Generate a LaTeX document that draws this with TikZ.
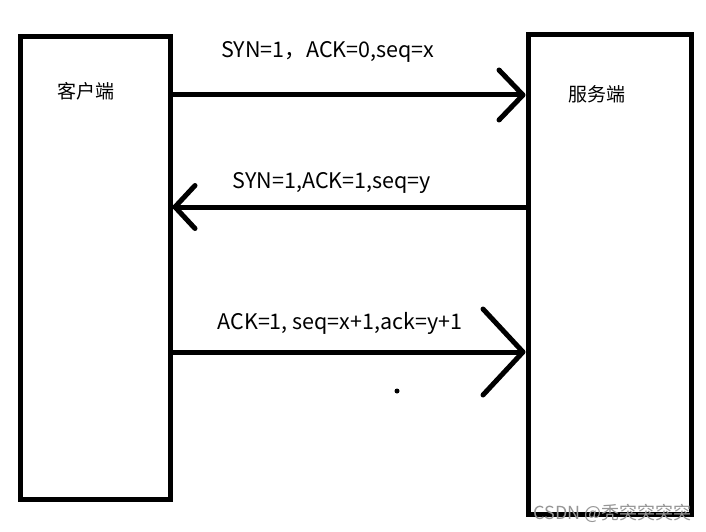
\documentclass[tikz,border=0pt]{standalone}
\usepackage{fontspec}
\setmainfont{Noto Sans CJK SC}
\usepackage{xcolor}
\usetikzlibrary{positioning, arrows.meta, calc}
\definecolor{inkline}{RGB}{0,0,0}
\definecolor{markgray}{RGB}{150,150,150}
\tikzset{
  hostbox/.style={
    rectangle, draw=inkline, line width=5pt,
    inner sep=0pt
  },
  hostlabel/.style={
    font=\fontsize{19}{22}\selectfont, inner sep=0pt
  },
  msglabel/.style={
    font=\fontsize{21.5}{24}\selectfont, inner sep=0pt
  },
  msgarrow/.style={
    draw=inkline, line width=5pt, line cap=round
  }
}

\begin{document}
\begin{tikzpicture}[x=1pt, y=-1pt]
  \useasboundingbox (0,0) rectangle (706,532);
  \node[hostbox, minimum width=150pt, minimum height=462pt] (client) at (95,268) {};
  \node[hostbox, minimum width=163pt, minimum height=479pt] (server) at (609.5,274.5) {};
  \node[hostlabel, below right=48pt and 40pt of client.north west] (clientname) {客户端};
  \node[hostlabel, below right=53pt and 43pt of server.north west] (servername) {服务端};

  % message rows
  \coordinate (row1) at (0,95);
  \coordinate (row2) at (0,207);
  \coordinate (row3) at (0,352);

  \draw[msgarrow, -{Straight Barb[length=24pt, width=50pt, round]}]
    (client.east |- row1) -- (server.west |- row1);
  \draw[msgarrow, -{Straight Barb[length=20pt, width=43pt, round]}]
    (server.west |- row2) -- (client.east |- row2);
  \draw[msgarrow, -{Straight Barb[length=40pt, width=86pt, round]}]
    (client.east |- row3) -- (server.west |- row3);

  \node[msglabel] (syn) at (328,52) {SYN=1，ACK=0,seq=x};
  \node[msglabel] (synack) at (332,183) {SYN=1,ACK=1,seq=y};
  \node[msglabel] (ack) at (340,323) {ACK=1, seq=x+1,ack=y+1};

  \fill[inkline] (397,391) circle (2.5pt);
  \node[font=\fontsize{18}{20}\selectfont, text=markgray, inner sep=0pt, anchor=east] (mark) at (692,513) {CSDN @秃突突突突};
\end{tikzpicture}
\end{document}
